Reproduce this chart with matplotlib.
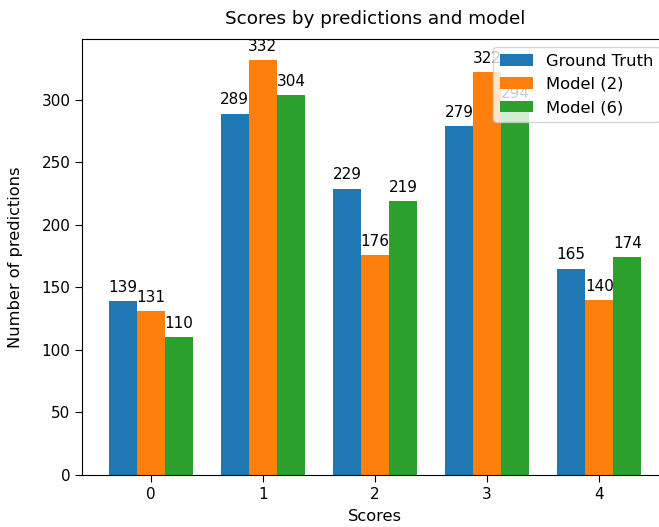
import matplotlib
matplotlib.use("Agg")
import matplotlib.pyplot as plt
import numpy as np

scores = ["0", "1", "2", "3", "4"]
ground_truth = [139, 289, 229, 279, 165]
model_2 = [131, 332, 176, 322, 140]
model_6 = [110, 304, 219, 294, 174]

series = [("Ground Truth", ground_truth), ("Model (2)", model_2), ("Model (6)", model_6)]

x = np.arange(len(scores))
width = 0.25
fs = 11
label_fs = 11.7

fig = plt.figure(figsize=(6.59, 5.27), dpi=100)
W, H = 659, 527
left, right, top, bottom = 82, 668, 39, 475
ax = fig.add_axes([left / W, 1 - bottom / H, (right - left) / W, (bottom - top) / H])

for i, (name, vals) in enumerate(series):
    bars = ax.bar(x + (i - 1) * width, vals, width, label=name)
    ax.bar_label(bars, padding=4.5, fontsize=fs)

ax.set_xticks(x)
ax.set_xticklabels(scores)
ax.tick_params(labelsize=fs, length=4.9)
ax.set_xlabel("Scores", fontsize=label_fs, labelpad=5.5)
ax.set_ylabel("Number of predictions", fontsize=label_fs, labelpad=13.5)
ax.set_title("Scores by predictions and model", fontsize=13.2, pad=10.5)
ax.legend(loc="upper right", fontsize=11.8)

fig.savefig("out.png", dpi=100)
